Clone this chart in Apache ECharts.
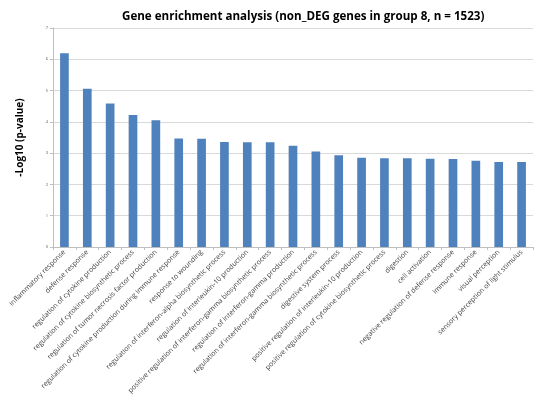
<!DOCTYPE html>
<html>
<head>
<meta charset="utf-8">
<script src="https://cdn.jsdelivr.net/npm/echarts@6/dist/echarts.min.js"></script>
<style>
  html, body { margin: 0; padding: 0; background: #ffffff; }
  #chart { width: 548px; height: 402px; }
</style>
</head>
<body>
<div id="chart"></div>
<script>
// GO terms enriched among non-DEG genes of group 8
const terms = [
  'inflammatory response',
  'defense response',
  'regulation of cytokine production',
  'regulation of cytokine biosynthetic process',
  'regulation of tumor necrosis factor production',
  'regulation of cytokine production during immune response',
  'response to wounding',
  'regulation of interferon-alpha biosynthetic process',
  'regulation of interleukin-10 production',
  'positive regulation of interferon-gamma biosynthetic process',
  'regulation of interferon-gamma production',
  'regulation of interferon-gamma biosynthetic process',
  'digestive system process',
  'positive regulation of interleukin-10 production',
  'positive regulation of cytokine biosynthetic process',
  'digestion',
  'cell activation',
  'negative regulation of defense response',
  'immune response',
  'visual perception',
  'sensory perception of light stimulus'
];

// -log10(p-value) per term
const negLogP = [
  6.19, 5.06, 4.59, 4.22, 4.05, 3.47, 3.46, 3.36, 3.35, 3.35,
  3.24, 3.05, 2.93, 2.85, 2.84, 2.84, 2.82, 2.81, 2.76, 2.72, 2.72
];

const yTicks = [0, 1, 2, 3, 4, 5, 6, 7];

const chart = echarts.init(document.getElementById('chart'), null, { renderer: 'canvas' });

chart.setOption({
  animation: false,
  backgroundColor: '#ffffff',
  title: {
    text: 'Gene enrichment analysis (non_DEG genes in group 8, n = 1523)',
    left: 117,
    top: 6,
    textStyle: {
      fontFamily: 'Open Sans',
      fontWeight: 'bold',
      fontSize: 11.6,
      color: '#000000'
    }
  },
  grid: {
    left: 53,
    right: 15,
    top: 28,
    bottom: 155,
    containLabel: false
  },
  xAxis: {
    type: 'category',
    data: terms,
    boundaryGap: true,
    axisLine: { show: true, lineStyle: { color: '#bfbfbf', width: 1 } },
    axisTick: { show: true, length: 3, alignWithLabel: false, lineStyle: { color: '#bfbfbf' } },
    axisLabel: {
      interval: 0,
      rotate: 45,
      margin: 4,
      fontFamily: 'Open Sans',
      fontSize: 7,
      color: '#404040'
    }
  },
  yAxis: {
    type: 'value',
    min: yTicks[0],
    max: yTicks[yTicks.length - 1],
    interval: 1,
    name: '-Log10 (p-value)',
    nameLocation: 'middle',
    nameGap: 28,
    nameRotate: 90,
    nameTextStyle: {
      fontFamily: 'Open Sans',
      fontWeight: 'bold',
      fontSize: 10,
      color: '#000000'
    },
    axisLine: { show: true, lineStyle: { color: '#bfbfbf', width: 1 } },
    axisTick: { show: true, length: 3, lineStyle: { color: '#bfbfbf' } },
    axisLabel: {
      fontFamily: 'Open Sans',
      fontSize: 4,
      color: '#595959',
      margin: 5
    },
    splitLine: { show: true, lineStyle: { color: '#d9d9d9', width: 1 } }
  },
  series: [{
    type: 'bar',
    data: negLogP,
    barWidth: '38%',
    itemStyle: { color: '#4f81bd' }
  }]
});
</script>
</body>
</html>
